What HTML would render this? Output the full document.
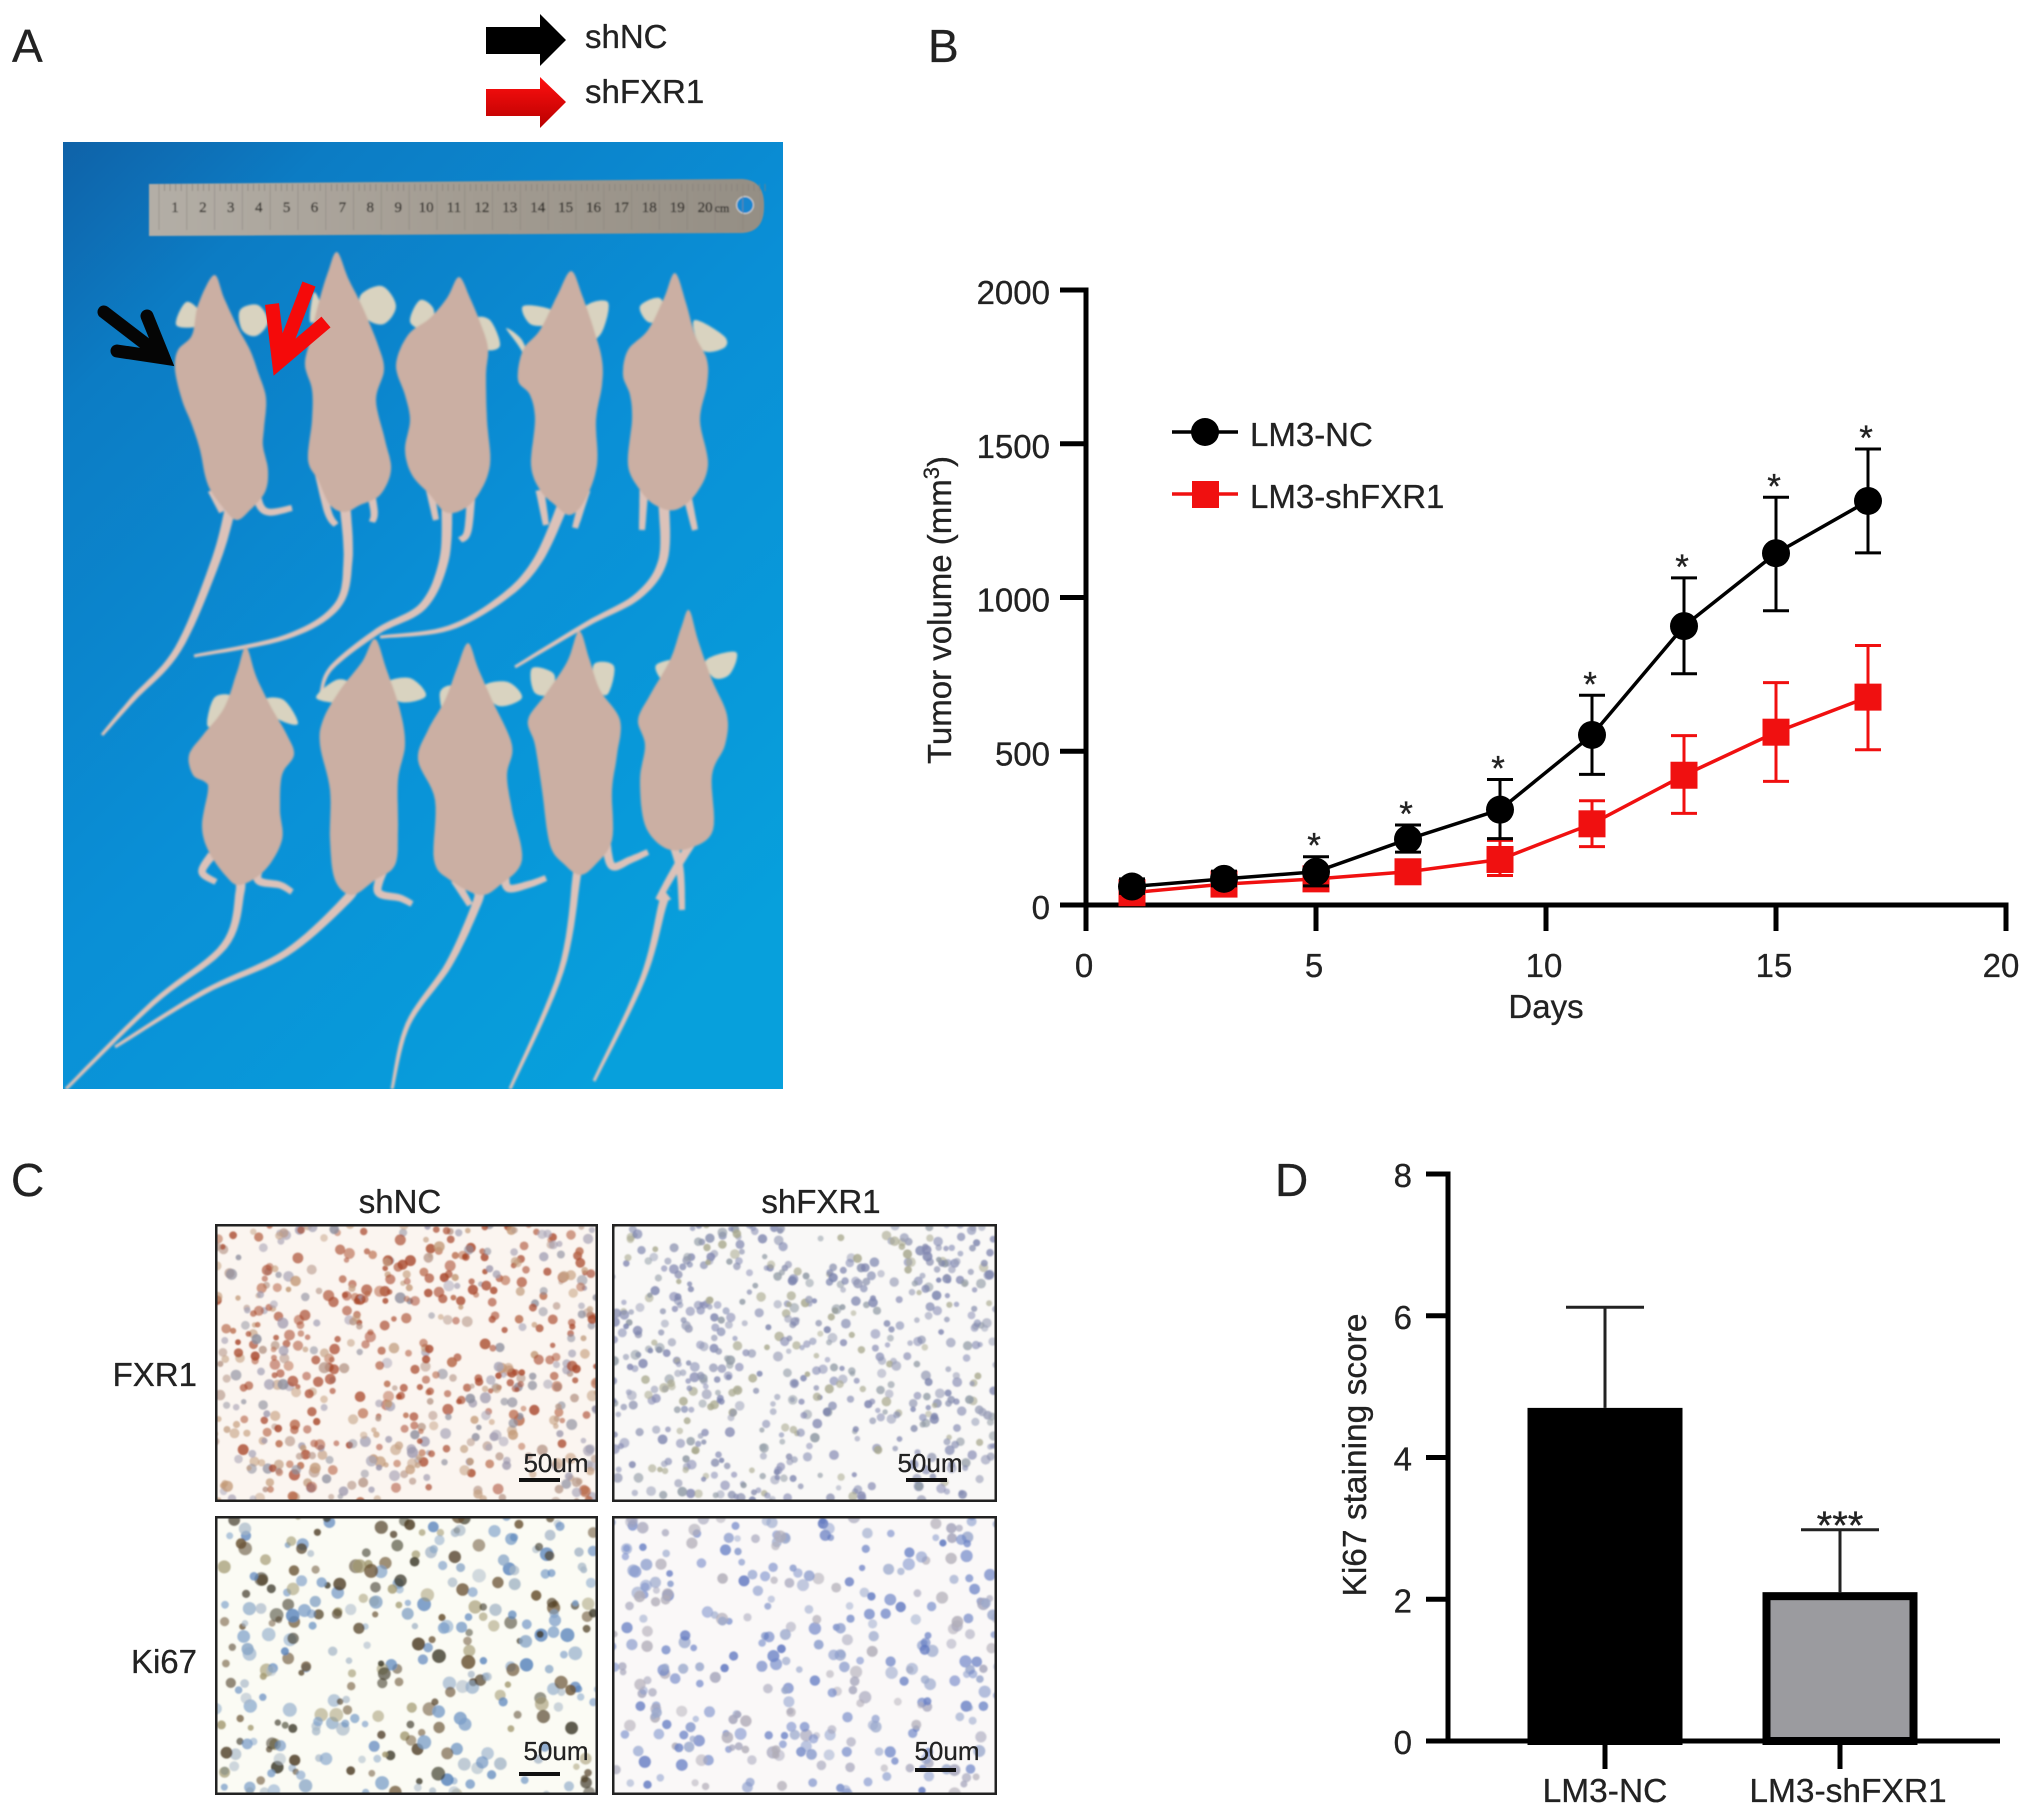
<!DOCTYPE html>
<html lang="en">
<head>
<meta charset="utf-8">
<title>Tumor growth figure</title>
<style>
html,body{margin:0;padding:0;background:#fff;}
svg{display:block;}
text{font-family:"Liberation Sans",sans-serif;fill:#222;stroke:#222;stroke-width:0.3px;}
</style>
</head>
<body>
<svg id="fig" xmlns="http://www.w3.org/2000/svg" width="2032" height="1816" viewBox="0 0 2032 1816">
  <defs>
    <linearGradient id="blueBg" x1="0" y1="0" x2="0.75" y2="1">
      <stop offset="0" stop-color="#0f62a8"/>
      <stop offset="0.18" stop-color="#0c7cc4"/>
      <stop offset="0.55" stop-color="#0a8fd6"/>
      <stop offset="1" stop-color="#07a0dc"/>
    </linearGradient>
    <linearGradient id="rulerFill" x1="0" y1="0" x2="1" y2="0">
      <stop offset="0" stop-color="#b3aea6"/>
      <stop offset="0.5" stop-color="#a39c92"/>
      <stop offset="1" stop-color="#948e84"/>
    </linearGradient>
    <linearGradient id="redArrowFill" x1="0" y1="0" x2="0" y2="1">
      <stop offset="0" stop-color="#ff1010"/>
      <stop offset="1" stop-color="#b80000"/>
    </linearGradient>
    <filter id="soft" x="-5%" y="-5%" width="110%" height="110%"><feGaussianBlur stdDeviation="1.1"/></filter>
    <filter id="softer" x="-5%" y="-5%" width="110%" height="110%"><feGaussianBlur stdDeviation="0.9"/></filter>
    <filter id="wide" x="-30%" y="-30%" width="160%" height="160%"><feGaussianBlur stdDeviation="5"/></filter>
    <clipPath id="photoClip"><rect x="63" y="142" width="720" height="947"/></clipPath>
    <clipPath id="clipTL"><rect x="215" y="1224" width="383" height="278"/></clipPath>
    <clipPath id="clipTR"><rect x="612" y="1224" width="385" height="278"/></clipPath>
    <clipPath id="clipBL"><rect x="215" y="1516" width="383" height="279"/></clipPath>
    <clipPath id="clipBR"><rect x="612" y="1516" width="385" height="279"/></clipPath>
  </defs>

  <text x="12" y="62" font-size="46">A</text>
  <text x="928" y="62" font-size="46">B</text>
  <text x="11" y="1196" font-size="46">C</text>
  <text x="1275" y="1196" font-size="46">D</text>

  <g>
    <polygon points="486,27 540,27 540,14 566,40 540,66 540,54 486,54" fill="#000"/>
    <text x="585" y="48" font-size="33">shNC</text>
    <polygon points="486,89 540,89 540,77 566,102 540,128 540,116 486,116" fill="url(#redArrowFill)"/>
    <text x="585" y="103" font-size="33">shFXR1</text>
  </g>

  <g clip-path="url(#photoClip)">
    <rect x="63" y="142" width="720" height="947" fill="url(#blueBg)"/>
    <g id="ruler" filter="url(#softer)">
      <path d="M149 184 L742 179 Q765 180 764 207 Q764 232 742 233 L149 236 Z" fill="url(#rulerFill)"/>
      <circle cx="745" cy="205" r="8.5" fill="#1286cf" stroke="#d6d3cb" stroke-width="1"/>
    </g>
    <g id="mice" filter="url(#soft)"></g>
    <g fill="none" stroke="#050505" stroke-width="13" stroke-linecap="round" stroke-linejoin="miter">
      <path d="M104 312 L164 358 M147 316 L164 358 L117 351"/>
    </g>
    <g fill="none" stroke="#f50a0a" stroke-width="14" stroke-linejoin="miter">
      <path d="M309 284 L279 362 M272 304 L279 362 L326 322"/>
    </g>
  </g>

  <g>
    <text x="400" y="1213" font-size="33" text-anchor="middle">shNC</text>
    <text x="821" y="1213" font-size="33" text-anchor="middle">shFXR1</text>
    <text x="197" y="1386" font-size="33" text-anchor="end">FXR1</text>
    <text x="197" y="1673" font-size="33" text-anchor="end">Ki67</text>
    <g id="tissue"></g>
  </g>

  <g id="chartB"></g>
  <g id="chartD"></g>
</svg>

<script>
/* ---------- Panel B data ---------- */
var days = [1, 3, 5, 7, 9, 11, 13, 15, 17];
var ncMean = [60, 85, 108, 214, 310, 553, 907, 1144, 1314];
var ncUpper = [85, 110, 157, 260, 408, 682, 1064, 1326, 1483];
var ncLower = [38, 62, 62, 172, 216, 425, 752, 957, 1145];
var shMean = [40, 68, 85, 108, 148, 264, 422, 562, 676];
var shUpper = [62, 90, 110, 142, 210, 339, 551, 723, 844];
var shLower = [20, 48, 62, 78, 96, 190, 298, 402, 505];
var starDays = [5, 7, 9, 11, 13, 15, 17];
var bXTicks = [0, 5, 10, 15, 20];
var bYTicks = [0, 500, 1000, 1500, 2000];

/* ---------- Panel D data ---------- */
var groups = ["LM3-NC", "LM3-shFXR1"];
var scoreMean = [4.7, 2.1];
var scoreUpper = [6.12, 2.98];
var dYTicks = [0, 2, 4, 6, 8];

var NS = "http://www.w3.org/2000/svg";
function mk(parent, tag, attrs, txt) {
  var e = document.createElementNS(NS, tag);
  for (var k in attrs) e.setAttribute(k, attrs[k]);
  if (txt !== undefined) e.textContent = txt;
  parent.appendChild(e);
  return e;
}

/* ---------- Chart B ---------- */
(function () {
  var g = document.getElementById("chartB");
  var X = function (v) { return 1086 + (v / 20) * 920; };
  var Y = function (v) { return 905 - (v / 2000) * 615; };
  var ax = "#000";

  var yAxis = mk(g, "line", {x1: X(0), x2: X(0), y1: Y(2000) - 2.5, y2: Y(0) + 26, stroke: ax, "stroke-width": 5});
  
  
  var xAxis = mk(g, "line", {x1: X(0) - 26, x2: X(20) + 2.5, y1: Y(0), y2: Y(0), stroke: ax, "stroke-width": 5});
  
  

  bYTicks.forEach(function (t) {
    var tk = mk(g, "line", {x1: X(0) - 26, x2: X(0), y1: Y(t), y2: Y(t), stroke: ax, "stroke-width": 5});
    
    
    var lb = mk(g, "text", {x: X(0) - 36, y: Y(t) + 14, "font-size": 33, "text-anchor": "end"}, String(t));
    
    
  });
  bXTicks.forEach(function (t) {
    var tk = mk(g, "line", {x1: X(t), x2: X(t), y1: Y(0), y2: Y(0) + 26, stroke: ax, "stroke-width": 5});
    
    
    var lb = mk(g, "text", {x: X(t) - (t === 20 ? 5 : 2), y: Y(0) + 72, "font-size": 33, "text-anchor": "middle"}, String(t));
    
    
  });

  var xt = mk(g, "text", {x: X(10), y: 1018, "font-size": 33, "text-anchor": "middle"}, "Days");
  
  

  var yt = mk(g, "text", {transform: "translate(951 610) rotate(-90)", "font-size": 33, "text-anchor": "middle"});
  
  
  mk(yt, "tspan", {}, "Tumor volume (mm");
  mk(yt, "tspan", {dy: -12, "font-size": 22}, "3");
  mk(yt, "tspan", {dy: 12}, ")");

  function drawSeries(mean, up, lo, color, shape, name) {
    var s = mk(g, "g", {});
    
    
    days.forEach(function (d, i) {
      var e = mk(s, "path", {
        d: "M" + X(d) + " " + Y(lo[i]) + "V" + Y(up[i]) +
           "M" + (X(d) - 13) + " " + Y(up[i]) + "h26" +
           "M" + (X(d) - 13) + " " + Y(lo[i]) + "h26",
        stroke: color, "stroke-width": 3, fill: "none"
      });
      
      
    });
    var pts = days.map(function (d, i) { return X(d) + "," + Y(mean[i]); }).join(" ");
    var pl = mk(s, "polyline", {points: pts, fill: "none", stroke: color, "stroke-width": 3.5});
    
    
    days.forEach(function (d, i) {
      var m;
      if (shape === "circle") {
        m = mk(s, "circle", {cx: X(d), cy: Y(mean[i]), r: 14, fill: color});
      } else {
        m = mk(s, "rect", {x: X(d) - 13.5, y: Y(mean[i]) - 13.5, width: 27, height: 27, fill: color});
      }
      
      
    });
  }
  drawSeries(shMean, shUpper, shLower, "#f01010", "rect", "series-lm3-shfxr1");
  drawSeries(ncMean, ncUpper, ncLower, "#000", "circle", "series-lm3-nc");

  starDays.forEach(function (d) {
    var i = days.indexOf(d);
    var st = mk(g, "text", {x: X(d) - 2, y: Y(ncUpper[i]) + 1, "font-size": 35, "text-anchor": "middle"}, "*");
    
    
  });

  /* legend */
  var l1 = mk(g, "g", {});
  
  
  mk(l1, "line", {x1: 1172, x2: 1238, y1: 432, y2: 432, stroke: "#000", "stroke-width": 3.5});
  mk(l1, "circle", {cx: 1205, cy: 432, r: 14, fill: "#000"});
  mk(l1, "text", {x: 1250, y: 446, "font-size": 33}, "LM3-NC");
  var l2 = mk(g, "g", {});
  
  
  mk(l2, "line", {x1: 1172, x2: 1238, y1: 494, y2: 494, stroke: "#f01010", "stroke-width": 3.5});
  mk(l2, "rect", {x: 1192, y: 481, width: 27, height: 27, fill: "#f01010"});
  mk(l2, "text", {x: 1250, y: 508, "font-size": 33}, "LM3-shFXR1");
})();

/* ---------- Chart D ---------- */
(function () {
  var g = document.getElementById("chartD");
  var Y = function (v) { return 1741 - (v / 8) * 567; };
  var X0 = 1448;
  var cx = function (i) { return 1605 + i * 235; };
  var bw = 155;
  var ax = "#000";

  dYTicks.forEach(function (t) {
    var tk = mk(g, "line", {x1: X0 - 22, x2: X0, y1: Y(t), y2: Y(t), stroke: ax, "stroke-width": 5});
    
    
    var lb = mk(g, "text", {x: X0 - 36, y: Y(t) + 13, "font-size": 33, "text-anchor": "end"}, String(t));
    
    
  });

  groups.forEach(function (name, i) {
    var e = mk(g, "path", {
      d: "M" + cx(i) + " " + Y(scoreMean[i]) + "V" + Y(scoreUpper[i]) +
         "M" + (cx(i) - 39) + " " + Y(scoreUpper[i]) + "h78",
      stroke: "#222", "stroke-width": 3, fill: "none"
    });
    
    
    var bar = mk(g, "rect", {
      x: cx(i) - bw / 2 + 4, y: Y(scoreMean[i]) + 4,
      width: bw - 8, height: Y(0) - Y(scoreMean[i]) - 4,
      fill: i === 0 ? "#000" : "#9b9b9f", stroke: "#000", "stroke-width": 8
    });
    
    
    var tk = mk(g, "line", {x1: cx(i), x2: cx(i), y1: Y(0), y2: Y(0) + 28, stroke: ax, "stroke-width": 5});
    
    
    var lb = mk(g, "text", {x: cx(i) + (i === 1 ? 8 : 0), y: 1802, "font-size": 33.5, "text-anchor": "middle"}, name);
    
    
  });

  var yAxis = mk(g, "line", {x1: X0, x2: X0, y1: Y(8) - 2.5, y2: Y(0) + 2.5, stroke: ax, "stroke-width": 5});
  
  
  var xAxis = mk(g, "line", {x1: X0 - 22, x2: 2000, y1: Y(0), y2: Y(0), stroke: ax, "stroke-width": 5});
  
  

  var st = mk(g, "text", {x: cx(1), y: Y(scoreUpper[1]) + 9, "font-size": 40, "text-anchor": "middle"}, "***");
  
  

  var yt = mk(g, "text", {transform: "translate(1366 1455) rotate(-90)", "font-size": 33.5, "text-anchor": "middle"}, "Ki67 staining score");
  
  
})();

/* ---------- Ruler marks ---------- */
(function () {
  var r = document.getElementById("ruler");
  for (var n = 1; n <= 20; n++) {
    var t = mk(r, "text", {x: 175 + (n - 1) * 27.9, y: 212, "font-size": 15, "text-anchor": "middle"}, String(n));
    t.style.fontFamily = '"Liberation Serif",serif';
    t.style.fill = "#2e2c28";
    t.style.stroke = "#2e2c28";
  }
  var cm = mk(r, "text", {x: 722, y: 212, "font-size": 12, "text-anchor": "middle"}, "cm");
  cm.style.fontFamily = '"Liberation Serif",serif';
  cm.style.fill = "#2e2c28";
  for (var i = 0; i < 110; i++) {
    mk(r, "line", {x1: 159 + i * 5.56, x2: 159 + i * 5.56, y1: 184, y2: i % 5 === 0 ? 230 : 191, stroke: "#86807a", "stroke-width": i % 5 === 0 ? 0.5 : 0.7});
  }
})();

/* ---------- Mice illustration ---------- */
function spline(pts, closed, perSeg) {
  var out = [], n = pts.length;
  var segs = closed ? n : n - 1;
  function P(i) {
    if (closed) return pts[(i + n) % n];
    return pts[Math.max(0, Math.min(n - 1, i))];
  }
  for (var i = 0; i < segs; i++) {
    var a = P(i - 1), b = P(i), c = P(i + 1), d = P(i + 2);
    for (var k = 0; k < perSeg; k++) {
      var t = k / perSeg, t2 = t * t, t3 = t2 * t;
      out.push([
        0.5 * (2 * b[0] + (c[0] - a[0]) * t + (2 * a[0] - 5 * b[0] + 4 * c[0] - d[0]) * t2 + (3 * b[0] - a[0] - 3 * c[0] + d[0]) * t3),
        0.5 * (2 * b[1] + (c[1] - a[1]) * t + (2 * a[1] - 5 * b[1] + 4 * c[1] - d[1]) * t2 + (3 * b[1] - a[1] - 3 * c[1] + d[1]) * t3)
      ]);
    }
  }
  if (!closed) out.push(pts[n - 1]);
  return out;
}
function toD(p) {
  return "M" + p.map(function (q) { return q[0].toFixed(1) + " " + q[1].toFixed(1); }).join("L") + "Z";
}
function tapered(pts, w0, w1) {
  var s = spline(pts, false, 10), L = [], R = [];
  for (var i = 0; i < s.length; i++) {
    var a = s[Math.max(0, i - 1)], b = s[Math.min(s.length - 1, i + 1)];
    var dx = b[0] - a[0], dy = b[1] - a[1], m = Math.hypot(dx, dy) || 1;
    var w = w0 + (w1 - w0) * (i / (s.length - 1));
    L.push([s[i][0] - dy / m * w, s[i][1] + dx / m * w]);
    R.push([s[i][0] + dy / m * w, s[i][1] - dx / m * w]);
  }
  return toD(L.concat(R.reverse()));
}
var mice = [
 {body:[[214,275],[224,298],[238,328],[250,350],[258,372],[266,398],[264,428],[263,446],[268,470],[265,492],[250,510],[237,520],[225,510],[208,485],[200,450],[192,425],[182,400],[175,370],[178,350],[192,335],[198,305]],
  ears:[[[176,325],[186,302],[200,312],[198,326]],[[240,310],[258,305],[268,322],[256,336],[242,330]]],
  tail:[[231,505],[216,560],[178,649],[133,699],[102,735]],
  legs:[[[256,470],[258,500],[268,512],[292,508]],[[212,490],[222,512]]]},
 {body:[[337,252],[348,278],[362,306],[378,345],[384,370],[376,400],[385,440],[391,470],[380,495],[360,505],[345,512],[330,505],[318,480],[308,460],[312,420],[312,390],[305,365],[310,340],[318,305],[328,272]],
  ears:[[[360,296],[382,286],[396,306],[384,324],[366,318]],[[314,292],[322,312],[310,322]]],
  tail:[[345,505],[348,560],[337,606],[286,637],[194,656]],
  legs:[[[318,468],[328,512],[336,525]],[[366,470],[374,510],[372,522]]]},
 {body:[[459,277],[470,298],[480,322],[488,348],[486,375],[487,420],[490,465],[478,495],[462,510],[445,512],[430,495],[412,475],[405,450],[410,420],[405,395],[396,365],[408,335],[430,318],[447,298]],
  ears:[[[410,322],[420,300],[434,310],[428,330]],[[474,320],[490,320],[500,346],[482,348]]],
  tail:[[447,505],[444,560],[423,606],[378,631],[332,667],[321,692]],
  legs:[[[428,480],[436,520]],[[472,480],[468,530],[460,540]]]},
 {body:[[571,271],[582,295],[594,330],[602,360],[602,385],[596,420],[597,465],[585,500],[570,515],[555,505],[540,490],[531,465],[535,420],[530,395],[518,380],[523,350],[540,330],[557,296]],
  ears:[[[523,306],[552,310],[550,324],[530,324]],[[584,308],[608,302],[602,332],[588,340]],[[506,328],[518,345],[530,364],[522,340]]],
  tail:[[563,505],[538,560],[505,596],[449,628],[380,637]],
  legs:[[[540,490],[546,525]],[[586,490],[575,528]]]},
 {body:[[675,273],[686,303],[695,335],[707,360],[707,385],[700,420],[708,465],[695,495],[675,510],[655,505],[640,490],[628,465],[632,420],[630,395],[623,375],[628,350],[648,330],[664,298]],
  ears:[[[640,306],[648,322],[664,318],[660,298]],[[694,320],[724,336],[724,348],[702,350]]],
  tail:[[664,505],[663,560],[638,596],[587,624],[515,667]],
  legs:[[[644,490],[642,530]],[[686,490],[695,530]]]},
 {body:[[246,647],[256,676],[270,705],[287,735],[294,755],[282,775],[280,810],[282,840],[265,870],[240,885],[225,875],[208,850],[202,825],[208,790],[205,782],[193,775],[189,755],[203,735],[224,708],[237,672]],
  ears:[[[208,727],[214,698],[232,696],[234,712]],[[264,700],[284,700],[298,724],[276,718]]],
  tail:[[238,875],[240,892],[224,946],[153,1003],[66,1089]],
  legs:[[[212,855],[202,872],[216,882]],[[262,860],[258,880],[280,885],[292,892]]]},
 {body:[[375,639],[386,668],[400,710],[405,745],[398,780],[398,830],[395,865],[375,880],[352,895],[335,880],[330,840],[330,790],[320,745],[323,720],[340,690],[362,662]],
  ears:[[[316,698],[336,680],[350,684],[346,702]],[[384,684],[410,678],[426,696],[400,702]]],
  tail:[[352,885],[347,899],[286,953],[204,992],[115,1047]],
  legs:[[[384,868],[378,892],[400,898],[412,904]]]},
 {body:[[468,643],[478,668],[492,700],[512,745],[507,775],[512,810],[522,860],[500,885],[480,895],[450,880],[434,860],[435,800],[418,760],[428,730],[445,700],[457,668]],
  ears:[[[440,692],[452,686],[456,704],[444,714]],[[484,686],[508,682],[522,698],[498,706]]],
  tail:[[478,890],[477,903],[449,964],[408,1024],[392,1089]],
  legs:[[[455,880],[470,905]],[[505,870],[508,888],[530,884],[546,878]]]},
 {body:[[579,631],[589,658],[600,690],[620,720],[617,755],[612,790],[612,840],[595,865],[580,875],[565,865],[550,845],[542,790],[535,745],[528,720],[545,695],[567,662]],
  ears:[[[532,668],[554,674],[550,694],[534,692]],[[594,664],[614,666],[608,694],[596,688]]],
  tail:[[578,870],[577,874],[561,971],[510,1089]],
  legs:[[[606,842],[612,866],[630,860],[648,852]]]},
 {body:[[689,610],[698,640],[712,680],[727,715],[725,745],[712,775],[713,830],[690,848],[665,848],[645,825],[640,780],[645,745],[638,720],[650,695],[670,660],[681,628]],
  ears:[[[656,665],[678,660],[674,678],[662,680]],[[706,660],[736,652],[730,674],[714,678]]],
  tail:[[668,895],[663,903],[643,978],[594,1081]],
  legs:[[[672,840],[680,870],[682,910]],[[692,842],[672,875],[658,900]]]}
];
(function () {
  var host = document.getElementById("mice");
  mice.forEach(function (m) {
    var g = mk(host, "g", {});
    
    
    mk(g, "path", {d: tapered(m.tail, 5.5, 1.5), fill: "#dcc2b9"});
    m.legs.forEach(function (leg) {
      mk(g, "path", {d: tapered(leg, 4.5, 3), fill: "#dcc2b9"});
    });
    m.ears.forEach(function (ear) {
      mk(g, "path", {d: toD(spline(ear, true, 6)), fill: "#d9d3c0"});
    });
    mk(g, "path", {d: toD(spline(m.body, true, 8)), fill: "#cbafa3"});
  });
})();

/* ---------- Histology textures ---------- */
var seed = 48271;
function rnd() { seed = (seed * 16807) % 2147483647; return seed / 2147483647; }
function tissue(name, clip, x, y, w, h, bg, dots, count, rmin, rmax, hot) {
  var host = document.getElementById("tissue");
  var g = mk(host, "g", {"clip-path": "url(#" + clip + ")"});
  
  
  mk(g, "rect", {x: x, y: y, width: w, height: h, fill: bg});
  var inner = mk(g, "g", {filter: "url(#softer)"});
  for (var i = 0; i < count; i++) {
    var px = x + rnd() * w, py = y + rnd() * h;
    var c;
    if (hot) {
      var dx = (px - (x + hot.cx * w)) / (hot.rx * w), dy = (py - (y + hot.cy * h)) / (hot.ry * h);
      var pr = hot.max * Math.exp(-(dx * dx + dy * dy));
      c = rnd() < pr ? hot.color : dots[Math.floor(rnd() * dots.length)];
    } else {
      c = dots[Math.floor(rnd() * dots.length)];
    }
    mk(inner, "circle", {cx: px.toFixed(1), cy: py.toFixed(1), r: (rmin + rnd() * (rmax - rmin)).toFixed(1), fill: c, opacity: 0.5 + rnd() * 0.35});
  }
  mk(g, "rect", {x: x, y: y, width: w, height: h, fill: "none", stroke: "#222", "stroke-width": 5});
}
tissue("fxr1-shnc-image", "clipTL", 215, 1224, 383, 278, "#fbf5f0",
  ["#b89a8c", "#9b96ac", "#c39a78", "#8e8f9e", "#b8694a", "#c6a488", "#a8a5b8"], 620, 2.6, 5.6,
  {cx: 0.5, cy: 0.35, rx: 0.6, ry: 0.5, max: 0.6, color: "#a9492d"});
tissue("fxr1-shfxr1-image", "clipTR", 612, 1224, 385, 278, "#f9f8f7",
  ["#8489b2", "#8f99a4", "#9a9fb8", "#7d84ad", "#a9a98f", "#8d93b2", "#7a82ad"], 620, 2.6, 5, null);
tissue("ki67-shnc-image", "clipBL", 215, 1516, 383, 279, "#fbfbf4",
  ["#4e3d25", "#6a5334", "#5c86bd", "#7ea0c9", "#a39a72", "#3e3a2a", "#8aa7c7", "#a8b8c8"], 340, 3, 7, null);
tissue("ki67-shfxr1-image", "clipBR", 612, 1516, 385, 279, "#faf8f8",
  ["#6c83c6", "#8799cb", "#a5a5bb", "#5d75bf", "#9aa8cc", "#b1adb8"], 340, 3.2, 6.2, null);

var bars = [
  {n: "fxr1-shnc", x: 519, y: 1480, tx: 556, ty: 1472},
  {n: "fxr1-shfxr1", x: 906, y: 1480, tx: 930, ty: 1472},
  {n: "ki67-shnc", x: 519, y: 1774, tx: 556, ty: 1760},
  {n: "ki67-shfxr1", x: 915, y: 1770, tx: 947, ty: 1760}
];
(function () {
  var host = document.getElementById("tissue");
  bars.forEach(function (b) {
    var ln = mk(host, "rect", {x: b.x, y: b.y - 2, width: 41, height: 4, fill: "#111"});
    
    
    var t = mk(host, "text", {x: b.tx, y: b.ty, "font-size": 26, "text-anchor": "middle"}, "50um");
    
    
  });
})();
</script>
</body>
</html>
